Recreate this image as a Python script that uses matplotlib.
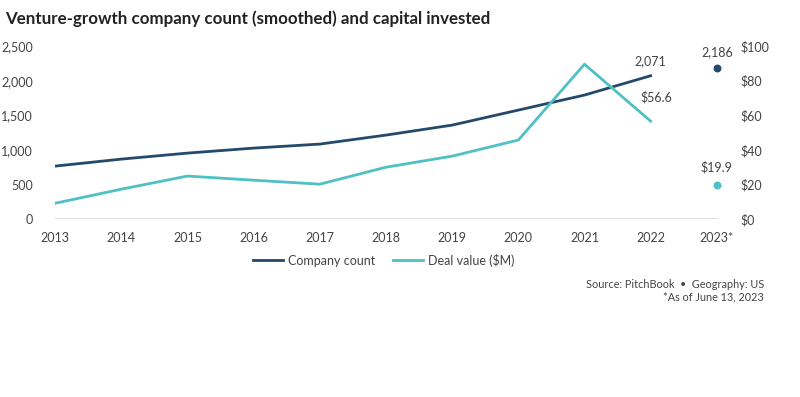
import matplotlib.pyplot as plt

plt.rcParams['font.family'] = ['Lato', 'DejaVu Sans']

years = [2013, 2014, 2015, 2016, 2017, 2018, 2019, 2020, 2021, 2022]
company_count = [766, 867, 954, 1026, 1084, 1214, 1358, 1575, 1792, 2071]
deal_value = [9.2, 17.3, 24.9, 22.5, 20.2, 30.0, 36.4, 45.7, 89.5, 56.6]
ytd_year = 2023
ytd_count = 2186
ytd_value = 19.9
xtick_labels = ['2013', '2014', '2015', '2016', '2017', '2018', '2019', '2020', '2021', '2022', '2023*']

navy = '#23496b'
teal = '#4fc0c4'
grey_txt = '#444444'

fig = plt.figure(figsize=(8.0, 3.97), dpi=100)
ax = fig.add_axes([0.069, 0.448, 0.827, 0.436])
ax2 = ax.twinx()

ax.plot(years, company_count, color=navy, lw=2, label='Company count', zorder=3)
ax.scatter([ytd_year], [ytd_count], color=navy, s=22, zorder=4, clip_on=False)
ax2.plot(years, deal_value, color=teal, lw=2, label='Deal value ($M)', zorder=3)
ax2.scatter([ytd_year], [ytd_value], color=teal, s=22, zorder=4, clip_on=False)

ax.set_xlim(2013, 2023)
ax.set_ylim(0, 2500)
ax2.set_ylim(0, 100)
ax.set_xticks(range(2013, 2024))
ax.set_xticklabels(xtick_labels)
ax.set_yticks(range(0, 2501, 500))
ax.set_yticklabels([f'{v:,}' for v in range(0, 2501, 500)])
ax2.set_yticks(range(0, 101, 20))
ax2.set_yticklabels([f'${v}' for v in range(0, 101, 20)])

for a in (ax, ax2):
    for s in a.spines.values():
        s.set_visible(False)
    a.tick_params(length=0, labelsize=9, colors=grey_txt)
ax.tick_params(axis='y', pad=16)
ax.tick_params(axis='x', pad=9)
ax2.tick_params(axis='y', pad=17)
ax.axhline(0, color='#d9d9d9', lw=1.2, zorder=1)

ann = dict(fontsize=9, color=grey_txt, ha='center', va='bottom')
ax.annotate(f'{company_count[-1]:,}', (years[-1], company_count[-1]),
            xytext=(0, 6), textcoords='offset points', **ann)
ax.annotate(f'{ytd_count:,}', (ytd_year, ytd_count),
            xytext=(0, 7), textcoords='offset points', **ann)
ax2.annotate(f'${deal_value[-1]}', (years[-1], deal_value[-1]),
             xytext=(4, 13), textcoords='offset points', **ann)
ax2.annotate(f'${ytd_value}', (ytd_year, ytd_value),
             xytext=(0, 8), textcoords='offset points', **ann)

h1, l1 = ax.get_legend_handles_labels()
h2, l2 = ax2.get_legend_handles_labels()
fig.legend(h1 + h2, l1 + l2, loc='center', bbox_to_anchor=(0.48, 0.345), ncol=2,
           frameon=False, fontsize=9, handlelength=2.4, columnspacing=1.4,
           handletextpad=0.4, labelcolor=grey_txt)

fig.text(0.006, 0.952, 'Venture-growth company count (smoothed) and capital invested',
         fontsize=12.2, fontweight='bold', color='#222222', va='center')
fig.text(0.955, 0.283, 'Source: PitchBook  \u2022  Geography: US', fontsize=7.8,
         color=grey_txt, ha='right', va='center')
fig.text(0.955, 0.252, '*As of June 13, 2023', fontsize=7.8,
         color=grey_txt, ha='right', va='center')

fig.savefig('out.png', dpi=100)
